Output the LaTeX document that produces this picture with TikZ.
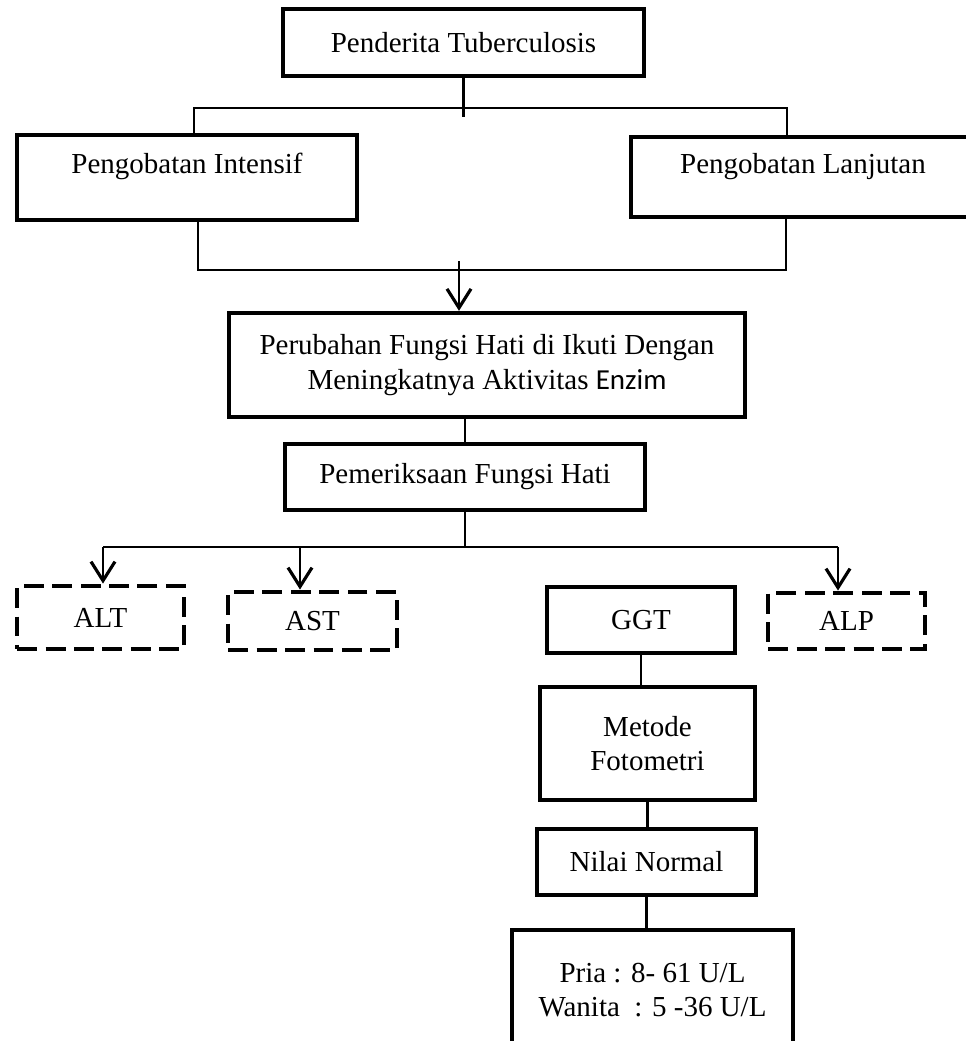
\documentclass[tikz,border=0pt]{standalone}
\usepackage{fontspec}
\setmainfont{Liberation Serif}
\newfontfamily\enzimfont{Carlito}
\usetikzlibrary{arrows.meta}
\begin{document}
\begin{tikzpicture}[x=0.02cm,y=-0.02cm]
    \tikzset{flow box/.style={draw,rectangle,line width=2.5pt,inner sep=0pt,align=center,font=\fontsize{16.5}{19.5}\selectfont},
             dash box/.style={flow box,line width=2.8pt,dash pattern=on 0.4cm off 0.17cm},
             link/.style={line width=1.3pt},
             arrow link/.style={link,-{Straight Barb[length=0.38cm,width=0.48cm,line width=1.8pt]}}}
    \useasboundingbox (0,0) rectangle (966,1041);

    \node [flow box,minimum width=7.22cm,minimum height=1.34cm] (PT) at (463.5,42.5) {Penderita Tuberculosis};
    \node [flow box,minimum width=6.8cm,minimum height=1.7cm,text depth=16pt] (PI) at (187,177.5) {Pengobatan Intensif};
    \node [flow box,minimum width=6.88cm,minimum height=1.6cm,text depth=16pt] (PL) at (803,177) {Pengobatan Lanjutan};
    \node [flow box,minimum width=10.32cm,minimum height=2.08cm] (PFH) at (487,365) {Perubahan Fungsi Hati di Ikuti Dengan\\Meningkatnya Aktivitas {\enzimfont Enzim}};
    \node [flow box,minimum width=7.2cm,minimum height=1.32cm] (PEM) at (465,477) {Pemeriksaan Fungsi Hati};

    \node [dash box,minimum width=3.34cm,minimum height=1.26cm] (ALT) at (100.5,617.5) {ALT};
    \node [dash box,minimum width=3.38cm,minimum height=1.16cm] (AST) at (312.5,621) {AST};
    \node [flow box,minimum width=3.76cm,minimum height=1.32cm] (GGT) at (641,620) {GGT};
    \node [dash box,minimum width=3.14cm,minimum height=1.12cm] (ALP) at (846.5,621) {ALP};

    \node [flow box,minimum width=4.3cm,minimum height=2.26cm] (MF) at (647.5,743.5) {Metode\\Fotometri};
    \node [flow box,minimum width=4.38cm,minimum height=1.32cm] (NN) at (646.5,862) {Nilai Normal};
    \node [flow box,minimum width=5.62cm,minimum height=2.4cm] (NV) at (652.5,990) {Pria : 8- 61 U/L\\Wanita~ : 5 -36 U/L};

    \coordinate (split-L) at (194,108);
    \coordinate (split-R) at (787,108);
    \coordinate (join-L) at (198,270);
    \coordinate (join-R) at (786,270);
    \coordinate (join-M) at (459,270);
    \coordinate (bus-L) at (103,547);
    \coordinate (bus-AST) at (300,547);
    \coordinate (bus-R) at (838,547);

    \draw [link] (PT.south) -- ([yshift=-5]PT.south |- split-L);
    \draw [link] (split-L |- PI.north) -- (split-L) -- (split-R) -- (split-R |- PL.north);
    \draw [link] (join-L |- PI.south) -- (join-L) -- (join-R) -- (join-R |- PL.south);
    \draw [arrow link] ([yshift=5]join-M) -- (join-M |- PFH.north);
    \draw [link] (PEM.north |- PFH.south) -- (PEM.north);
    \draw [link] (PEM.south) -- (PEM.south |- bus-L);
    \draw [link] (bus-L) -- (bus-R);
    \draw [arrow link] (bus-L) -- (bus-L |- ALT.north);
    \draw [arrow link] (bus-AST) -- (bus-AST |- AST.north);
    \draw [arrow link] (bus-R) -- (bus-R |- ALP.north);
    \draw [link] (GGT.south) -- (GGT.south |- MF.north);
    \draw [link] (MF.south) -- (MF.south |- NN.north);
    \draw [link] (NN.south) -- (NN.south |- NV.north);
  \end{tikzpicture}
\end{document}
